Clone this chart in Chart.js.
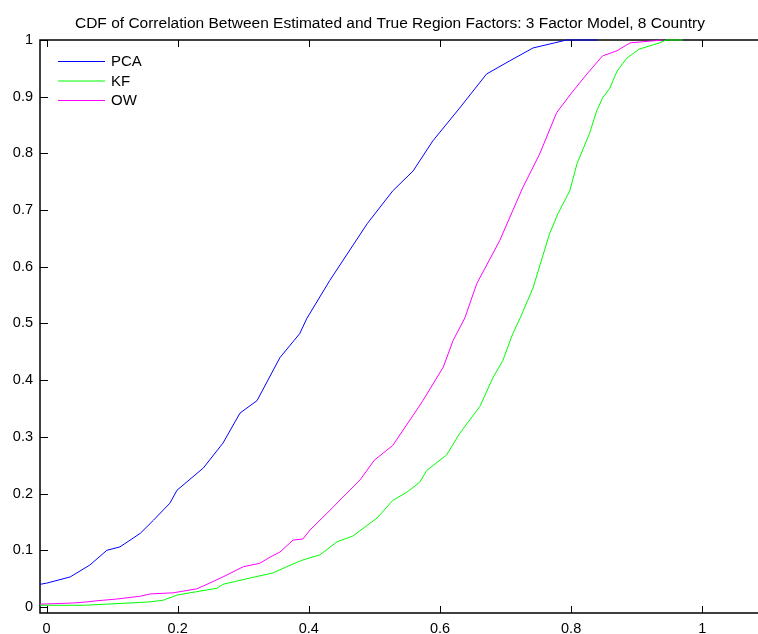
<!DOCTYPE html>
<html>
<head>
<meta charset="utf-8">
<title>CDF of Correlation</title>
<script src="https://cdn.jsdelivr.net/npm/chart.js@4.4.1/dist/chart.umd.min.js"></script>
<style>
  html, body { margin: 0; padding: 0; background: #fff; }
  #wrap { width: 758px; height: 634px; }
</style>
</head>
<body>
<div id="wrap"><canvas id="stage" width="758" height="634"></canvas></div>
<script>
// empirical CDF curves, read as (correlation, cumulative share)
var pcaX = [-0.01, 0.0, 0.036, 0.066, 0.092, 0.112, 0.143, 0.163, 0.188, 0.199, 0.239, 0.269, 0.295, 0.321, 0.356, 0.386, 0.397, 0.432, 0.489, 0.528, 0.559, 0.589, 0.630, 0.671, 0.706, 0.742, 0.775, 0.793, 0.84];
var pcaY = [0.040, 0.042, 0.053, 0.074, 0.100, 0.106, 0.130, 0.153, 0.183, 0.206, 0.245, 0.289, 0.342, 0.364, 0.440, 0.482, 0.509, 0.576, 0.676, 0.734, 0.769, 0.822, 0.880, 0.940, 0.963, 0.986, 0.995, 1.0, 1.0];

var kfX = [-0.01, 0.056, 0.092, 0.158, 0.178, 0.199, 0.229, 0.260, 0.269, 0.310, 0.345, 0.366, 0.391, 0.417, 0.443, 0.467, 0.504, 0.528, 0.549, 0.569, 0.580, 0.610, 0.630, 0.661, 0.681, 0.696, 0.711, 0.722, 0.742, 0.767, 0.780, 0.798, 0.809, 0.828, 0.839, 0.848, 0.859, 0.870, 0.885, 0.904, 0.935, 0.945, 0.97];
var kfY = [0.003, 0.003, 0.005, 0.009, 0.012, 0.021, 0.027, 0.033, 0.040, 0.051, 0.060, 0.071, 0.083, 0.092, 0.115, 0.125, 0.157, 0.188, 0.202, 0.220, 0.241, 0.268, 0.306, 0.354, 0.405, 0.435, 0.482, 0.509, 0.563, 0.658, 0.694, 0.734, 0.782, 0.835, 0.875, 0.898, 0.915, 0.945, 0.968, 0.984, 0.995, 1.0, 1.0];

var owX = [-0.01, 0.040, 0.062, 0.077, 0.107, 0.143, 0.158, 0.193, 0.229, 0.239, 0.269, 0.300, 0.325, 0.341, 0.356, 0.376, 0.391, 0.402, 0.437, 0.452, 0.478, 0.500, 0.528, 0.559, 0.574, 0.605, 0.620, 0.638, 0.656, 0.691, 0.726, 0.752, 0.778, 0.803, 0.824, 0.848, 0.870, 0.890, 0.94];
var owY = [0.005, 0.007, 0.009, 0.011, 0.014, 0.019, 0.023, 0.025, 0.032, 0.037, 0.053, 0.071, 0.077, 0.088, 0.097, 0.118, 0.120, 0.136, 0.176, 0.194, 0.224, 0.259, 0.285, 0.338, 0.364, 0.423, 0.470, 0.510, 0.570, 0.646, 0.739, 0.799, 0.872, 0.910, 0.940, 0.972, 0.981, 0.995, 1.0];

var seriesNames = ['PCA', 'KF', 'OW'];
var seriesColors = ['#0000ff', '#00ff00', '#ff00ff'];
var xTicks = [0, 0.2, 0.4, 0.6, 0.8, 1];
var yTicks = [0, 0.1, 0.2, 0.3, 0.4, 0.5, 0.6, 0.7, 0.8, 0.9, 1];
var titleText = 'CDF of Correlation Between Estimated and True Region Factors: 3 Factor Model, 8 Country';

var FONT = '"Liberation Sans", Arial, Helvetica, sans-serif';

function pts(xs, ys) {
    var out = [];
    for (var i = 0; i < xs.length; i++) out.push({x: xs[i], y: ys[i]});
    return out;
}

function fmt(v) {
    return String(Math.round(v * 10) / 10);
}

// axes box with inward ticks, drawn under the curves
var framePlugin = {
    id: 'frame',
    beforeDatasetsDraw: function(chart) {
        var ctx = chart.ctx, a = chart.chartArea;
        var sx = chart.scales.x, sy = chart.scales.y;
        ctx.save();
        ctx.strokeStyle = '#000';
        ctx.lineWidth = 1.5;
        ctx.beginPath();
        ctx.moveTo(a.right + 2, a.top);
        ctx.lineTo(a.left, a.top);
        ctx.lineTo(a.left, a.bottom);
        ctx.lineTo(a.right + 2, a.bottom);
        ctx.stroke();
        ctx.lineWidth = 1;
        ctx.beginPath();
        xTicks.forEach(function(v) {
            var px = Math.round(sx.getPixelForValue(v)) + 0.5;
            ctx.moveTo(px, a.bottom); ctx.lineTo(px, a.bottom - 7);
            ctx.moveTo(px, a.top); ctx.lineTo(px, a.top + 7);
        });
        yTicks.forEach(function(v) {
            var py = Math.round(sy.getPixelForValue(v)) + 0.5;
            ctx.moveTo(a.left, py); ctx.lineTo(a.left + 8, py);
        });
        ctx.stroke();
        ctx.restore();
    }
};

// title and legend in the corner of the axes
var labelPlugin = {
    id: 'labels',
    afterDraw: function(chart) {
        var ctx = chart.ctx;
        ctx.save();
        ctx.fillStyle = '#000';
        ctx.font = '15.5px ' + FONT;
        ctx.textAlign = 'center';
        ctx.textBaseline = 'alphabetic';
        ctx.fillText(titleText, 390, 28);

        ctx.font = '15px ' + FONT;
        ctx.textAlign = 'left';
        ctx.textBaseline = 'middle';
        chart.data.datasets.forEach(function(ds, i) {
            var y = 61 + i * 19.5;
            ctx.strokeStyle = ds.borderColor;
            ctx.lineWidth = 1;
            ctx.beginPath();
            ctx.moveTo(58, y + 0.5);
            ctx.lineTo(105, y + 0.5);
            ctx.stroke();
            ctx.fillStyle = '#000';
            ctx.fillText(ds.label, 111, y + 1);
        });
        ctx.restore();
    }
};

var datasets = [
    {label: seriesNames[0], data: pts(pcaX, pcaY), borderColor: seriesColors[0]},
    {label: seriesNames[1], data: pts(kfX, kfY), borderColor: seriesColors[1]},
    {label: seriesNames[2], data: pts(owX, owY), borderColor: seriesColors[2]}
].map(function(d) {
    d.borderWidth = 1;
    d.pointRadius = 0;
    d.fill = false;
    d.tension = 0;
    d.clip = false;
    return d;
});

var canvas = document.getElementById('stage');
var chart = new Chart(canvas, {
    type: 'line',
    data: {datasets: datasets},
    options: {
        responsive: false,
        animation: false,
        events: [],
        layout: {padding: {top: 40, right: 0, left: 0, bottom: 0}},
        plugins: {legend: {display: false}, tooltip: {enabled: false}, title: {display: false}},
        scales: {
            x: {
                type: 'linear',
                min: -0.01,
                max: 1.085,
                grid: {display: false, drawTicks: false},
                border: {display: false},
                afterBuildTicks: function(s) { s.ticks = xTicks.map(function(v) { return {value: v}; }); },
                afterFit: function(s) { s.height = 21; },
                ticks: {
                    callback: function(v) { return fmt(v); },
                    color: '#000',
                    font: {family: FONT, size: 14.5},
                    padding: 7,
                    maxRotation: 0
                }
            },
            y: {
                type: 'linear',
                min: -0.0106,
                max: 1,
                grid: {display: false, drawTicks: false},
                border: {display: false},
                afterBuildTicks: function(s) { s.ticks = yTicks.map(function(v) { return {value: v}; }); },
                afterFit: function(s) { s.width = 40; },
                ticks: {
                    callback: function(v) { return fmt(v); },
                    color: '#000',
                    font: {family: FONT, size: 14.5},
                    padding: 7
                }
            }
        }
    },
    plugins: [framePlugin, labelPlugin]
});
</script>
</body>
</html>
